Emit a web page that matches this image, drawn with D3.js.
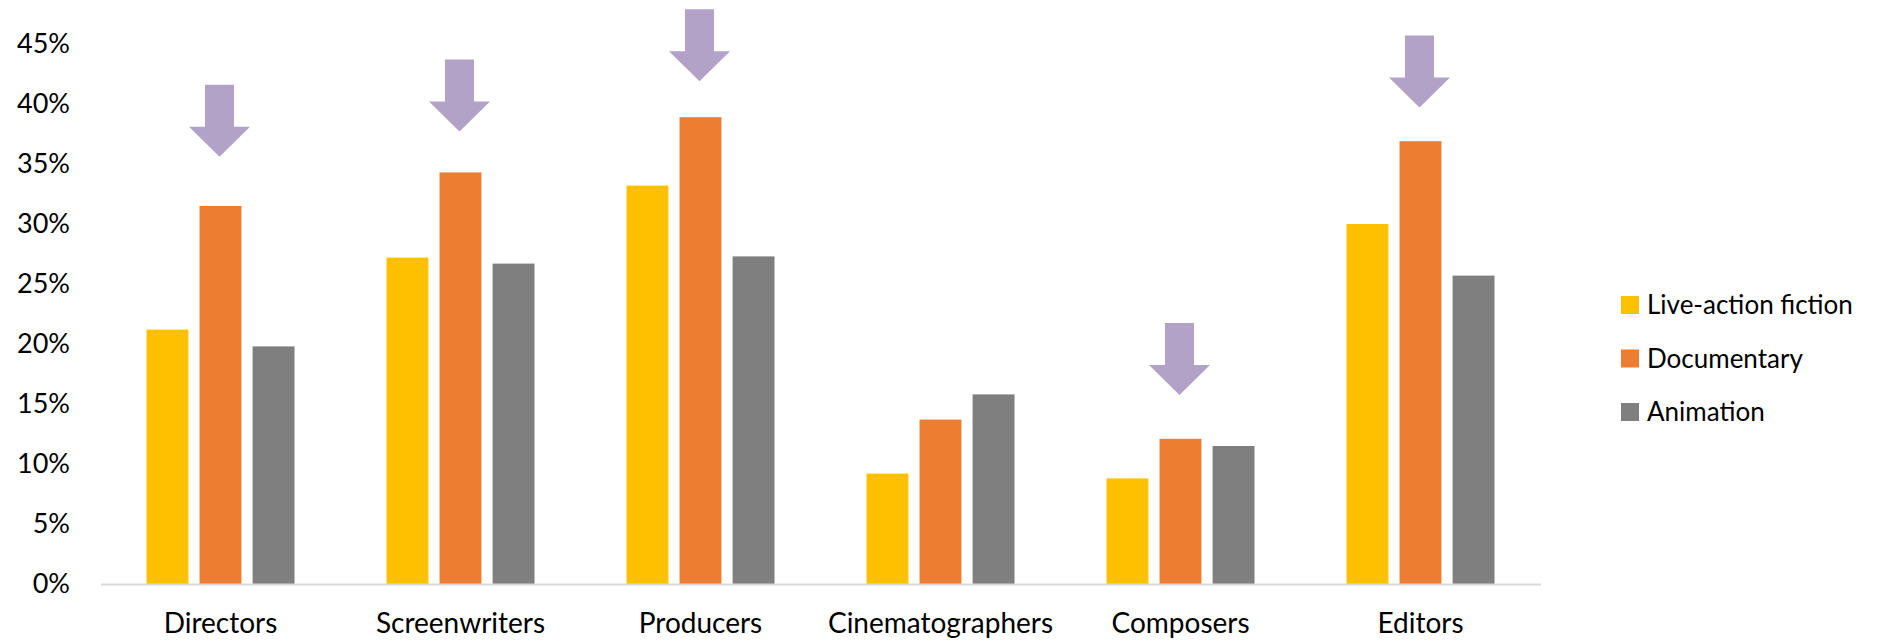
<!DOCTYPE html>
<html>
<head>
<meta charset="utf-8">
<script src="https://cdn.jsdelivr.net/npm/d3@7"></script>
<style>
  body { margin: 0; background: #fff; }
  text { font-family: Lato, "Open Sans", sans-serif; fill: #000; }
</style>
</head>
<body>
<div id="chart"></div>
<script>
// data
var categories = ["Directors", "Screenwriters", "Producers", "Cinematographers", "Composers", "Editors"];
var series = ["Live-action fiction", "Documentary", "Animation"];
var liveAction = [21.2, 27.2, 33.2, 9.2, 8.8, 30.0];
var documentary = [31.5, 34.3, 38.9, 13.7, 12.1, 36.9];
var animation = [19.8, 26.7, 27.3, 15.8, 11.5, 25.7];
// where each arrow's tip points (in %), null = no arrow
var arrowTips = [35.6, 37.7, 41.9, null, 15.75, 39.7];
var yTicks = [0, 5, 10, 15, 20, 25, 30, 35, 40, 45];

var colors = ["#FFC000", "#ED7D31", "#7F7F7F"];
var arrowColor = "#B3A2C7";

function init() {
    var w = 1888;
    var h = 641;

    var values = [liveAction, documentary, animation];

    var svg = d3.select("#chart")
        .append("svg")
        .attr("width", w)
        .attr("height", h);

    var x = d3.scaleBand()
        .domain(categories)
        .range([100.5, 1540.5]);

    var xSub = d3.scaleBand()
        .domain(series)
        .range([46, 194])
        .paddingInner(0.21);

    var y = d3.scaleLinear()
        .domain([0, 45])
        .range([584, 44]);

    // y axis labels only (no line, no ticks)
    var yAxis = d3.axisLeft(y)
        .tickValues(yTicks)
        .tickFormat(function (d) { return d + "%"; })
        .tickSize(0)
        .tickPadding(0);

    svg.append("g")
        .attr("transform", "translate(70,0)")
        .call(yAxis)
        .call(function (g) { g.select(".domain").remove(); })
        .selectAll("text")
        .attr("font-size", 27)
        .attr("font-family", "Lato, 'Open Sans', sans-serif")
        .attr("fill", "#000");

    // bars
    series.forEach(function (s, si) {
        svg.append("g")
            .selectAll("rect")
            .data(values[si])
            .enter()
            .append("rect")
            .attr("x", function (d, i) { return x(categories[i]) + xSub(s); })
            .attr("y", function (d) { return y(d); })
            .attr("width", xSub.bandwidth())
            .attr("height", function (d) { return y(0) - y(d); })
            .attr("fill", colors[si]);
    });

    // x axis
    var xAxis = d3.axisBottom(x)
        .tickSize(0)
        .tickPadding(29);

    var gx = svg.append("g")
        .attr("transform", "translate(0," + y(0) + ")")
        .call(xAxis);
    gx.select(".domain")
        .attr("stroke", "#D9D9D9")
        .attr("stroke-width", 2);
    gx.selectAll("text")
        .attr("font-size", 28)
        .attr("font-family", "Lato, 'Open Sans', sans-serif")
        .attr("fill", "#000");

    // down arrows above documentary bars
    var shaftW = 29, headW = 61, shaftH = 42, headH = 30;
    var arrows = arrowTips
        .map(function (t, i) { return { tip: t, cat: categories[i] }; })
        .filter(function (d) { return d.tip !== null; });

    svg.append("g")
        .selectAll("path")
        .data(arrows)
        .enter()
        .append("path")
        .attr("d", function (d) {
            var cx = x(d.cat) + xSub("Documentary") + xSub.bandwidth() / 2 - 1;
            var ty = y(d.tip);
            var p = d3.path();
            p.moveTo(cx - shaftW / 2, ty - headH - shaftH);
            p.lineTo(cx + shaftW / 2, ty - headH - shaftH);
            p.lineTo(cx + shaftW / 2, ty - headH);
            p.lineTo(cx + headW / 2, ty - headH);
            p.lineTo(cx, ty);
            p.lineTo(cx - headW / 2, ty - headH);
            p.lineTo(cx - shaftW / 2, ty - headH);
            p.closePath();
            return p.toString();
        })
        .attr("fill", arrowColor);

    // legend
    var legend = svg.append("g")
        .attr("transform", "translate(1621,296)");

    var items = legend.selectAll("g")
        .data(series)
        .enter()
        .append("g")
        .attr("transform", function (d, i) { return "translate(0," + (i * 53.5) + ")"; });

    items.append("rect")
        .attr("width", 18)
        .attr("height", 18)
        .attr("fill", function (d, i) { return colors[i]; });

    items.append("text")
        .attr("x", 26)
        .attr("y", 18)
        .attr("font-size", 26)
        .text(function (d) { return d; });
}

window.onload = init;
</script>
</body>
</html>
